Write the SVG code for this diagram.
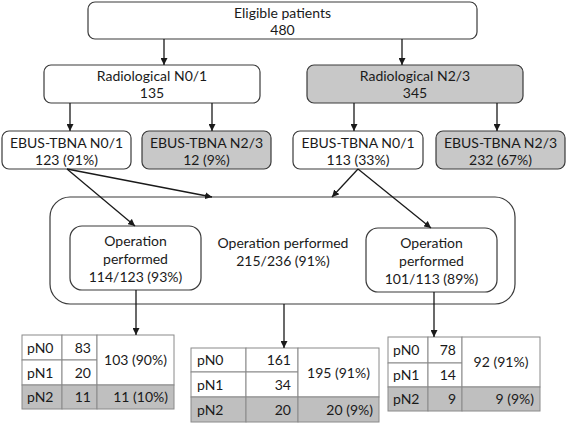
<svg xmlns="http://www.w3.org/2000/svg" width="567" height="424" viewBox="0 0 567 424">
<defs>
<marker id="ah" viewBox="0 0 10 10" refX="10" refY="5" markerWidth="7" markerHeight="7" markerUnits="userSpaceOnUse" orient="auto">
<path d="M0,0 L10,5 L0,10 z" fill="#1a1a1a"/>
</marker>
<style>
text{font-family:Lato,"Liberation Sans",sans-serif;font-size:14px;fill:#1a1a1a}
.c{text-anchor:middle}
.r{text-anchor:end}
.box{fill:#fff;stroke:#3a3a3a;stroke-width:1.2}
.g{fill:#c8c8c8}
.cell{fill:#fff;stroke:#8a8a8a;stroke-width:1}
.cg{fill:#bfbfbf;stroke:#8a8a8a;stroke-width:1}
.ln{stroke:#1a1a1a;stroke-width:1.3;fill:none;marker-end:url(#ah)}
</style>
</defs>
<rect width="567" height="424" fill="#fff"/>

<g id="eligible">
<rect class="box" x="88" y="2" width="389" height="37" rx="7"/>
<text class="c" x="282.5" y="17.5">Eligible patients</text>
<text class="c" x="282.5" y="34.5">480</text>
</g>
<g id="rad01">
<rect class="box" x="44" y="65" width="216" height="38" rx="7"/>
<text class="c" x="152" y="81">Radiological N0/1</text>
<text class="c" x="152" y="98">135</text>
</g>
<g id="rad23">
<rect class="box g" x="307" y="65" width="216" height="38" rx="7"/>
<text class="c" x="415" y="81">Radiological N2/3</text>
<text class="c" x="415" y="98">345</text>
</g>
<g id="ebus1">
<rect class="box" x="2" y="131" width="129" height="38" rx="7"/>
<text class="c" x="66.5" y="148">EBUS-TBNA N0/1</text>
<text class="c" x="66.5" y="165">123 (91%)</text>
</g>
<g id="ebus2">
<rect class="box g" x="142" y="131" width="129" height="38" rx="7"/>
<text class="c" x="206.5" y="148">EBUS-TBNA N2/3</text>
<text class="c" x="206.5" y="165">12 (9%)</text>
</g>
<g id="ebus3">
<rect class="box" x="293" y="131" width="130" height="38" rx="7"/>
<text class="c" x="358" y="148">EBUS-TBNA N0/1</text>
<text class="c" x="358" y="165">113 (33%)</text>
</g>
<g id="ebus4">
<rect class="box g" x="436" y="131" width="129" height="38" rx="7"/>
<text class="c" x="500.5" y="148">EBUS-TBNA N2/3</text>
<text class="c" x="500.5" y="165">232 (67%)</text>
</g>
<g id="optotal">
<rect class="box" x="50" y="197" width="465" height="107" rx="20"/>
<text class="c" x="283" y="248">Operation performed</text>
<text class="c" x="283" y="266">215/236 (91%)</text>
</g>
<g id="opleft">
<rect class="box" x="70" y="226" width="131" height="64" rx="12"/>
<text class="c" x="135.5" y="246">Operation</text>
<text class="c" x="135.5" y="264">performed</text>
<text class="c" x="135.5" y="282">114/123 (93%)</text>
</g>
<g id="opright">
<rect class="box" x="366" y="228" width="131" height="64" rx="12"/>
<text class="c" x="431.5" y="248">Operation</text>
<text class="c" x="431.5" y="266">performed</text>
<text class="c" x="431.5" y="284">101/113 (89%)</text>
</g>

<g id="table1">
<rect class="cell" x="22" y="335" width="40" height="25"/>
<rect class="cell" x="62" y="335" width="35" height="25"/>
<rect class="cell" x="22" y="360" width="40" height="25"/>
<rect class="cell" x="62" y="360" width="35" height="25"/>
<rect class="cell" x="97" y="335" width="77" height="50"/>
<rect class="cg" x="22" y="385" width="40" height="24"/>
<rect class="cg" x="62" y="385" width="35" height="24"/>
<rect class="cg" x="97" y="385" width="77" height="24"/>
<text x="27" y="353">pN0</text><text class="r" x="91" y="353">83</text>
<text x="27" y="378">pN1</text><text class="r" x="91" y="378">20</text>
<text x="27" y="402">pN2</text><text class="r" x="91" y="402">11</text>
<text class="c" x="135.5" y="365">103 (90%)</text>
<text class="r" x="168" y="402">11 (10%)</text>
</g>
<g id="table2">
<rect class="cell" x="191" y="348" width="55" height="24"/>
<rect class="cell" x="246" y="348" width="52" height="24"/>
<rect class="cell" x="191" y="372" width="55" height="25"/>
<rect class="cell" x="246" y="372" width="52" height="25"/>
<rect class="cell" x="298" y="348" width="81" height="49"/>
<rect class="cg" x="191" y="397" width="55" height="25"/>
<rect class="cg" x="246" y="397" width="52" height="25"/>
<rect class="cg" x="298" y="397" width="81" height="25"/>
<text x="197" y="365">pN0</text><text class="r" x="291" y="365">161</text>
<text x="197" y="390">pN1</text><text class="r" x="291" y="390">34</text>
<text x="197" y="415">pN2</text><text class="r" x="291" y="415">20</text>
<text class="c" x="338.5" y="378">195 (91%)</text>
<text class="r" x="373" y="415">20 (9%)</text>
</g>
<g id="table3">
<rect class="cell" x="388" y="337" width="40" height="26"/>
<rect class="cell" x="428" y="337" width="34" height="26"/>
<rect class="cell" x="388" y="363" width="40" height="24"/>
<rect class="cell" x="428" y="363" width="34" height="24"/>
<rect class="cell" x="462" y="337" width="78" height="50"/>
<rect class="cg" x="388" y="387" width="40" height="24"/>
<rect class="cg" x="428" y="387" width="34" height="24"/>
<rect class="cg" x="462" y="387" width="78" height="24"/>
<text x="393" y="355">pN0</text><text class="r" x="456" y="355">78</text>
<text x="393" y="380">pN1</text><text class="r" x="456" y="380">14</text>
<text x="393" y="404">pN2</text><text class="r" x="456" y="404">9</text>
<text class="c" x="501" y="367">92 (91%)</text>
<text class="r" x="534" y="404">9 (9%)</text>
</g>

<g id="connectors">
<line class="ln" x1="164" y1="39" x2="164" y2="65"/>
<line class="ln" x1="402" y1="39" x2="402" y2="65"/>
<line class="ln" x1="70" y1="103" x2="70" y2="131"/>
<line class="ln" x1="212" y1="103" x2="212" y2="131"/>
<line class="ln" x1="354" y1="103" x2="354" y2="131"/>
<line class="ln" x1="497" y1="103" x2="497" y2="131"/>
<line class="ln" x1="67" y1="169" x2="135" y2="226"/>
<line class="ln" x1="67" y1="169" x2="212" y2="197"/>
<line class="ln" x1="358" y1="169" x2="332" y2="197"/>
<line class="ln" x1="358" y1="169" x2="431" y2="228"/>
<line class="ln" x1="136" y1="290" x2="136" y2="335"/>
<line class="ln" x1="284" y1="304" x2="284" y2="348"/>
<line class="ln" x1="434" y1="292" x2="434" y2="337"/>
</g>
</svg>
